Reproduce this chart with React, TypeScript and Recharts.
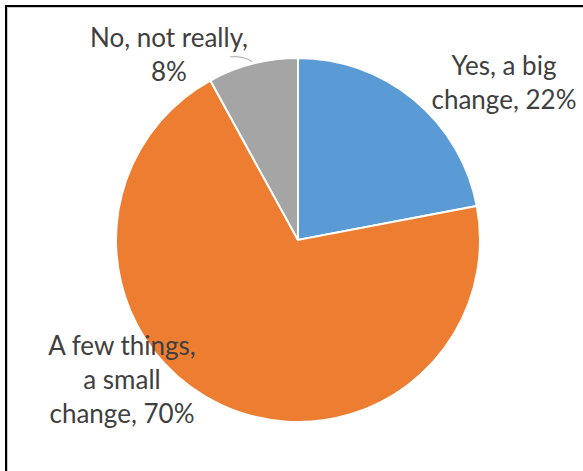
import React from 'react';
import { PieChart, Pie, Cell } from 'recharts';

const categories = ['Yes, a big change', 'A few things, a small change', 'No, not really'];
const values = [22, 70, 8];
const labelLines = [
  ['Yes, a big', 'change, 22%'],
  ['A few things,', 'a small', 'change, 70%'],
  ['No, not really,', '8%'],
];
const colors = ['#5B9BD5', '#ED7D31', '#A5A5A5'];

const data = categories.map((name, i) => ({ name, value: values[i] }));

// label block placement relative to the pie centre (x of text centre, y of first baseline)
const labelOffsets = [
  { dx: 206, dy: -165 },
  { dx: -176, dy: 115 },
  { dx: -129, dy: -193 },
];

const FONT = 'Lato, "Open Sans", sans-serif';
const LINE_H = 34;

const renderLabel = (props: any) => {
  const { cx, cy, index, outerRadius, midAngle } = props;
  const off = labelOffsets[index];
  const x = cx + off.dx;
  const y = cy + off.dy;
  let leader: React.ReactNode = null;
  if (index === 2) {
    const RAD = Math.PI / 180;
    const ex = cx + (outerRadius + 2) * Math.cos(-midAngle * RAD);
    const ey = cy + (outerRadius + 2) * Math.sin(-midAngle * RAD);
    const sx = ex - 22;
    const sy = ey - 5;
    leader = (
      <path
        d={`M${sx},${sy} Q${sx + 14},${sy - 1} ${ex},${ey}`}
        stroke="#A6A6A6"
        strokeWidth={1}
        fill="none"
      />
    );
  }
  return (
    <g>
      {leader}
      <text
        x={x}
        y={y}
        textAnchor="middle"
        fill="#404040"
        fontFamily={FONT}
        fontSize={26}
      >
        {labelLines[index].map((t, i) => (
          <tspan key={i} x={x} dy={i === 0 ? 0 : LINE_H}>
            {t}
          </tspan>
        ))}
      </text>
    </g>
  );
};

export default function App() {
  return (
    <div style={{ position: 'absolute', left: 0, top: 0, width: 583, height: 471, background: '#fff', overflow: 'hidden' }}>
      <div
        style={{
          position: 'absolute',
          left: 5,
          top: 5,
          width: 600,
          height: 500,
          borderTop: '2px solid #000',
          borderLeft: '2px solid #000',
          boxShadow: 'inset 1px 1px 0 #C8C8C8',
        }}
      />
      <PieChart
        width={583}
        height={471}
        margin={{ top: 0, right: 0, bottom: 0, left: 0 }}
        style={{ position: 'absolute', left: 0, top: 0 }}
      >
        <Pie
          data={data}
          dataKey="value"
          nameKey="name"
          cx={298}
          cy={240}
          outerRadius={182}
          startAngle={90}
          endAngle={-270}
          stroke="#FFFFFF"
          strokeWidth={2}
          label={renderLabel}
          labelLine={false}
          isAnimationActive={false}
        >
          {data.map((d, i) => (
            <Cell key={d.name} fill={colors[i]} />
          ))}
        </Pie>
      </PieChart>
    </div>
  );
}
